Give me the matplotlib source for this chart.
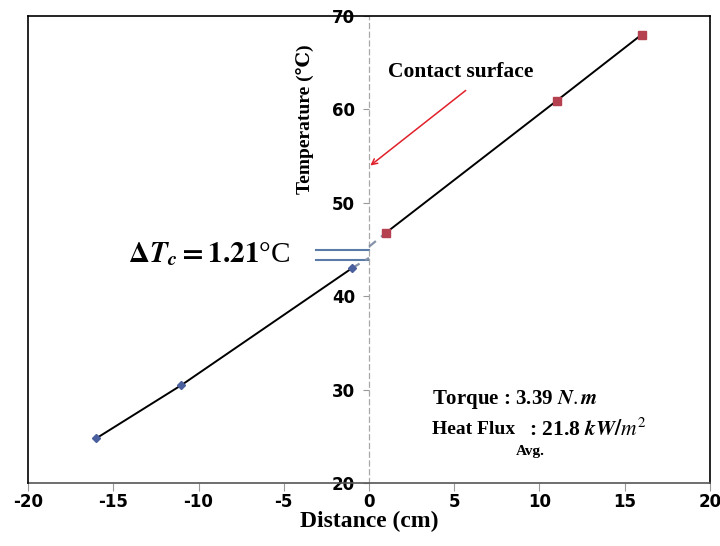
import matplotlib
matplotlib.use('Agg')
import matplotlib.pyplot as plt

# ── Data ──────────────────────────────────────────────────────────────────────
left_x   = [-16, -11, -1]
left_y   = [24.8, 30.5, 43.0]
right_x  = [1, 11, 16]
right_y  = [46.8, 60.9, 68.0]

# extrapolated temperatures at the contact surface (x = 0)
left_surface  = 44.1
right_surface = 45.3

# the two blue marker lines next to the ΔT label
dt_lines   = [44.9, 43.9]
dt_x_start = -3.1

x_ticks = [-20, -15, -10, -5, 0, 5, 10, 15, 20]
y_ticks = [20, 30, 40, 50, 60, 70]

plt.rcParams['mathtext.fontset'] = 'stix'
plt.rcParams['axes.unicode_minus'] = False
SERIF = ['Liberation Serif', 'DejaVu Serif']

fig = plt.figure(figsize=(7.2, 5.46), dpi=100)
ax = fig.add_axes([0.039, 0.115, 0.947, 0.856])

# ── Fitted lines + measured points ────────────────────────────────────────────
ax.plot(left_x, left_y, color='black', linewidth=1.4, zorder=3)
ax.plot(right_x, right_y, color='black', linewidth=1.4, zorder=3)
ax.plot([left_x[-1], 0], [left_y[-1], left_surface], color='#8592a8',
        linewidth=1.6, linestyle=(0, (4, 3)), zorder=3)
ax.plot([0, right_x[0]], [right_surface, right_y[0]], color='#8592a8',
        linewidth=1.6, linestyle=(0, (4, 3)), zorder=3)
ax.plot(left_x, left_y, linestyle='none', marker='D', markersize=4,
        color='#4a5f9e', zorder=4)
ax.plot(right_x, right_y, linestyle='none', marker='s', markersize=5.5,
        color='#b5404f', zorder=4)

for yv in dt_lines:
    ax.plot([dt_x_start, 0], [yv, yv], color='#5a7aa8', linewidth=1.5, zorder=2)

# ── Axes styling (Excel look: y axis crosses at x = 0) ────────────────────────
ax.set_xlim(-20, 20)
ax.set_ylim(20, 70)
ax.set_xticks(x_ticks)
ax.set_yticks(y_ticks)

ax.spines['left'].set_position(('data', 0))
ax.spines['left'].set_color('#a8a8a8')
ax.spines['left'].set_linestyle((0, (4, 3)))
ax.spines['left'].set_linewidth(0.9)
for s in ['top', 'right']:
    ax.spines[s].set_color('black')
    ax.spines[s].set_linewidth(1.2)
ax.spines['bottom'].set_color('#555555')
ax.spines['bottom'].set_linewidth(1.2)
ax.plot([-20, -20], [20, 70], color='black', linewidth=1.2, clip_on=False, zorder=5)

ax.tick_params(axis='x', direction='out', length=6, color='#999999', pad=1,
               labelsize=12)
ax.tick_params(axis='y', direction='out', length=4, color='#999999', pad=6,
               labelsize=12)
for lbl in ax.get_xticklabels() + ax.get_yticklabels():
    lbl.set_fontweight('bold')

ax.set_xlabel('Distance (cm)', family=SERIF, fontweight='bold', fontsize=17,
              labelpad=0)
ax.text(-3.75, 58.9, 'Temperature (℃)', family=SERIF, fontweight='bold',
        fontsize=14, rotation=90, ha='center', va='center')

# ── Annotations ───────────────────────────────────────────────────────────────
ax.text(1.1, 64.0, 'Contact surface', family=SERIF, fontweight='bold',
        fontsize=15.5, ha='left', va='center')
ax.annotate('', xy=(-0.05, 53.8), xytext=(5.8, 62.2),
            arrowprops=dict(arrowstyle='->', color='#e0202a', linewidth=1.1))

ax.text(-4.6, 44.5, r'$\mathbf{\Delta}\boldsymbol{T}_{\boldsymbol{c}}\mathbf{=1.21}$°C',
        family=SERIF, fontsize=21, ha='right', va='center')

ax.text(3.7, 29.0, r'Torque : 3.39 $\boldsymbol{N.m}$', family=SERIF,
        fontweight='bold', fontsize=15, ha='left', va='center')
ax.text(3.7, 25.7, 'Heat Flux', family=SERIF, fontweight='bold',
        fontsize=14, ha='left', va='center')
ax.text(8.6, 23.4, 'Avg.', family=SERIF, fontweight='bold',
        fontsize=11, ha='left', va='center')
ax.text(9.4, 25.7, r': 21.8 $\boldsymbol{kW/m^2}$', family=SERIF,
        fontweight='bold', fontsize=15.5, ha='left', va='center')

fig.savefig('out.png', dpi=100, facecolor='white')
